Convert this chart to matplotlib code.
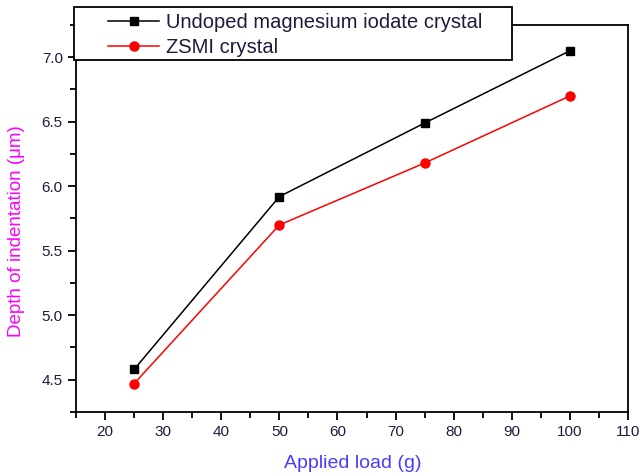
import matplotlib.pyplot as plt
from matplotlib.patches import Rectangle
from matplotlib.ticker import MultipleLocator

plt.rcParams['font.family'] = ['Liberation Sans', 'DejaVu Sans']

# data
load = [25, 50, 75, 100]
undoped = [4.58, 5.92, 6.49, 7.05]
zsmi = [4.47, 5.70, 6.18, 6.70]

W, H = 642, 476
fig = plt.figure(figsize=(W / 100, H / 100), dpi=100)
ax = fig.add_axes([76 / W, 1 - 412 / H, 552 / W, 387 / H])

ax.plot(load, undoped, color='black', marker='s', markersize=6, linewidth=1.1,
        label='Undoped magnesium iodate crystal')
ax.plot(load, zsmi, color='red', marker='o', markersize=6.5, linewidth=1.1,
        label='ZSMI crystal')

ax.set_xlim(15, 110)
ax.set_ylim(4.25, 7.25)
ax.set_xticks(range(20, 111, 10))
ax.xaxis.set_minor_locator(MultipleLocator(5))
ax.yaxis.set_major_locator(MultipleLocator(0.5))
ax.yaxis.set_minor_locator(MultipleLocator(0.25))
ax.tick_params(which='major', direction='out', length=6, width=1.3,
               labelsize=11, labelcolor='#1c1c3c')
ax.tick_params(which='minor', direction='out', length=4, width=1.3)
for s in ax.spines.values():
    s.set_linewidth(1.3)

ax.set_xlabel('Applied load (g)', color='#4a3cff', fontsize=14, va='center')
ax.xaxis.set_label_coords(0.502, (412 - 463) / 387)
ax.set_ylabel('Depth of indentation (\u03bcm)', color='#ff00ff', fontsize=13.5,
              va='center')
ax.yaxis.set_label_coords((17 - 76) / 552, (412 - 231) / 387)

# legend box sits above the axes, partly outside
fig.patches.append(Rectangle((74 / W, 1 - 60 / H), (512 - 74) / W, 53 / H,
                             transform=fig.transFigure, facecolor='white',
                             edgecolor='black', linewidth=1.3, zorder=5))
leg = fig.legend(loc='upper left', bbox_to_anchor=(108 / W, 1 - 13 / H), fontsize=14.5,
                 frameon=False, handlelength=2.55, borderpad=0, labelspacing=0.32,
                 borderaxespad=0, handletextpad=0.35)
leg.set_zorder(6)
for t in leg.get_texts():
    t.set_color('#1c1c3c')

plt.savefig('out.png', dpi=100)
plt.close()
